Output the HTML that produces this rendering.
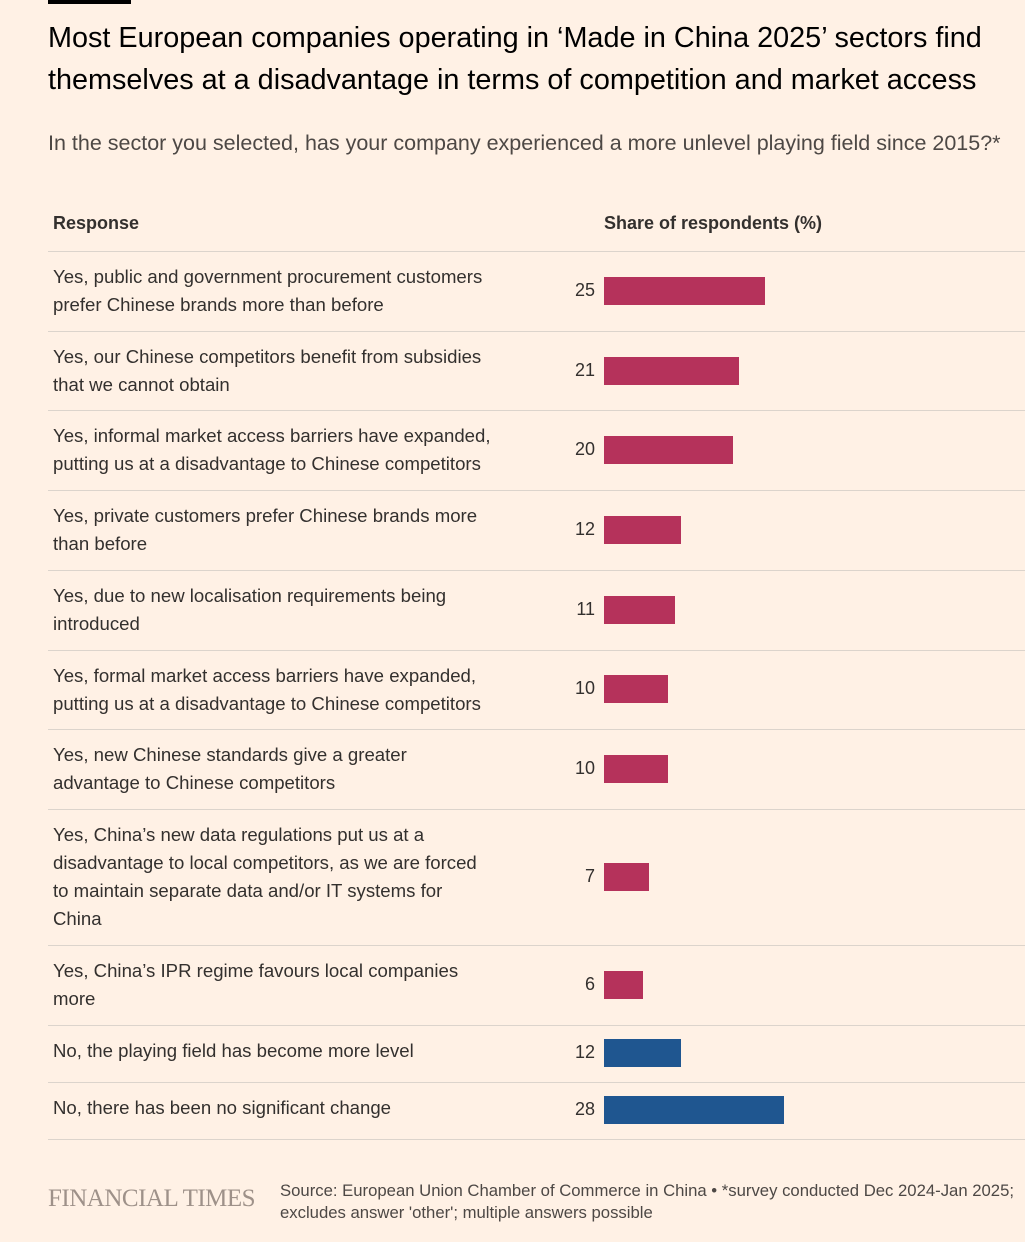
<!DOCTYPE html>
<html><head><meta charset="utf-8"><style>
body{margin:0;background:#fff1e5;font-family:"Liberation Sans",sans-serif;color:#33302e;}
#root{position:relative;width:1025px;height:1242px;overflow:hidden;}
.abs{position:absolute;}
.hl{position:absolute;left:48px;right:0;height:1px;background:#dcd4cc;}
.lbl{position:absolute;left:53px;font-size:18.6px;line-height:28px;color:#33302e;white-space:nowrap;}
.val{position:absolute;width:40px;left:555px;text-align:right;font-size:18px;}
</style></head><body>
<div id="root">
<div class="abs" style="left:48px;top:0;width:83px;height:4px;background:#000"></div>
<div class="abs" style="left:48px;top:17px;font-size:28.8px;line-height:42px;color:#000">Most European companies operating in ‘Made in China 2025’ sectors find<br>themselves at a disadvantage in terms of competition and market access</div>
<div class="abs" style="left:48px;top:131px;font-size:21.5px;color:#4d4845">In the sector you selected, has your company experienced a more unlevel playing field since 2015?*</div>
<div class="abs" style="left:53px;top:213px;font-size:18px;font-weight:bold;color:#33302e">Response</div>
<div class="abs" style="left:604px;top:213px;font-size:18px;font-weight:bold;color:#33302e">Share of respondents (%)</div>
<div class="hl" style="top:251px"></div>
<div id="rows"></div>
<div class="abs" style="left:48px;top:1185px;font-family:'Liberation Serif',serif;font-size:25px;color:#9e9189;letter-spacing:-0.5px">FINANCIAL TIMES</div>
<div class="abs" style="left:280px;top:1180px;font-size:16.7px;line-height:22px;color:#4d4845">Source: European Union Chamber of Commerce in China • *survey conducted Dec 2024-Jan 2025;<br>excludes answer 'other'; multiple answers possible</div>
</div>
<script>
const labels=[
["Yes, public and government procurement customers","prefer Chinese brands more than before"],
["Yes, our Chinese competitors benefit from subsidies","that we cannot obtain"],
["Yes, informal market access barriers have expanded,","putting us at a disadvantage to Chinese competitors"],
["Yes, private customers prefer Chinese brands more","than before"],
["Yes, due to new localisation requirements being","introduced"],
["Yes, formal market access barriers have expanded,","putting us at a disadvantage to Chinese competitors"],
["Yes, new Chinese standards give a greater","advantage to Chinese competitors"],
["Yes, China’s new data regulations put us at a","disadvantage to local competitors, as we are forced","to maintain separate data and/or IT systems for","China"],
["Yes, China’s IPR regime favours local companies","more"],
["No, the playing field has become more level"],
["No, there has been no significant change"]
];
const values=[25,21,20,12,11,10,10,7,6,12,28];
const groups=["yes","yes","yes","yes","yes","yes","yes","yes","yes","no","no"];
const x0=604, pxPer=6.44;
function xScale(v){return v*pxPer;}
const heights={1:57,2:79.7,3:108,4:136};
const rows=document.getElementById('rows');
let y=251;
labels.forEach((lines,i)=>{
  const h=heights[lines.length];
  const t=document.createElement('div');
  t.className='lbl';
  t.style.top=Math.round(y+12)+'px';
  
  
  t.innerHTML=lines.join('<br>');
  rows.appendChild(t);
  const cy=y+h/2;
  const v=document.createElement('div');
  v.className='val';
  v.style.top=Math.round(cy-11)+'px';
  v.textContent=values[i];
  
  
  rows.appendChild(v);
  const b=document.createElement('div');
  b.className='abs';
  b.style.left=x0+'px';b.style.top=Math.round(cy-14)+'px';b.style.height='28px';
  b.style.width=xScale(values[i])+'px';
  b.style.background=groups[i]==='yes'?'#b5325b':'#1f5690';
  
  
  rows.appendChild(b);
  y+=h;
  const l=document.createElement('div');
  l.className='hl';l.style.top=Math.round(y)+'px';
  
  
  rows.appendChild(l);
});
</script>
</body></html>
